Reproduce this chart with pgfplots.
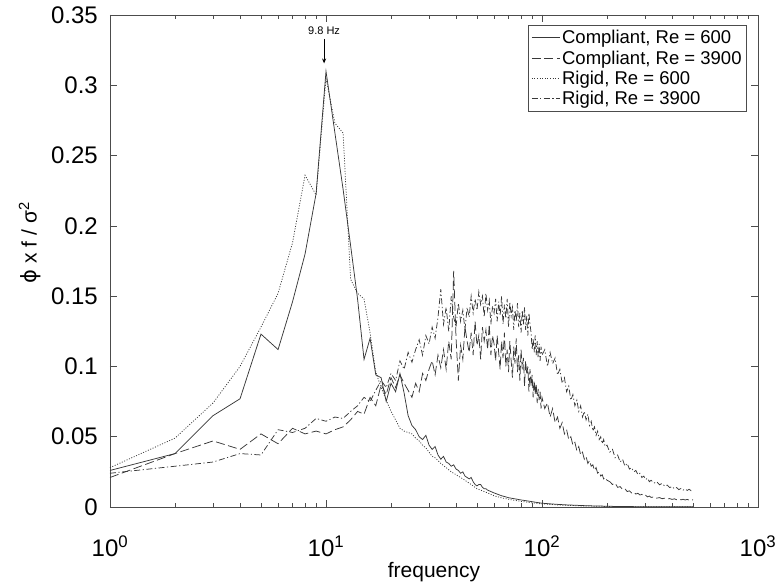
\documentclass[border=0pt]{standalone}
\usepackage{pgfplots}
\pgfplotsset{compat=1.18}
\usepackage{fontspec}
\setmainfont{Liberation Sans}
\newfontfamily\djv{DejaVu Sans}
\usetikzlibrary{arrows.meta}
\definecolor{lc}{gray}{0.22}
\definecolor{fr}{gray}{0.3}

\pgfplotstableread{
f v
1 0.026
2 0.038
3 0.065
4 0.077
5 0.123
6 0.112
7 0.146
8 0.180
9 0.223
10 0.310
11 0.266
12 0.226
13 0.186
14 0.148
15 0.105
16 0.120
17 0.094
18 0.092
19 0.075
20 0.088
21 0.082
22 0.095
23 0.081
24 0.065
25 0.058
26 0.055
27 0.050
28 0.048
29 0.051
30 0.044
31 0.041
32 0.043
33 0.037
34 0.034
35 0.036
36 0.032
37 0.031
38 0.029
39 0.030
40 0.027
41 0.026
42 0.024
43 0.025
44 0.022
45 0.021
46 0.020
47 0.021
48 0.018
49 0.016
50 0.015
51 0.016
52 0.016
53 0.014
54 0.013
55 0.013
56 0.012
58 0.011
60 0.010
62 0.0092
65 0.0080
68 0.0072
70 0.0066
75 0.0058
80 0.0050
85 0.0044
90 0.0038
95 0.0032
100 0.0027
110 0.0022
120 0.0018
130 0.0015
140 0.0013
155 0.0010
170 0.0008
185 0.0007
200 0.0005
250 0.0003
300 0.0002
400 0.0001
500 0.0001
}\compsix

\pgfplotstableread{
f v
1 0.021
2 0.038
3 0.047
4 0.041
5 0.052
6 0.045
7 0.056
8 0.052
9 0.054
10 0.052
11 0.055
12 0.057
13 0.062
14 0.068
15 0.066
16 0.078
17 0.072
18 0.087
19 0.080
20 0.092
21 0.085
22 0.094
23 0.088
24 0.083
25 0.078
26 0.088
27 0.082
28 0.095
29 0.090
30 0.098
31 0.104
32 0.094
33 0.108
34 0.099
35 0.112
36 0.098
37 0.118
38 0.105
39 0.168
40 0.120
41 0.090
42 0.115
43 0.105
44 0.128
45 0.118
46 0.110
47 0.124
48 0.108
49 0.132
50 0.115
51 0.122
52 0.105
53 0.128
54 0.118
55 0.126
56 0.112
57 0.130
58 0.108
59 0.122
60 0.116
61 0.104
62 0.122
63 0.110
64 0.098
65 0.118
66 0.106
67 0.124
68 0.100
69 0.112
70 0.096
71 0.118
72 0.104
73 0.092
74 0.114
75 0.102
76 0.120
77 0.096
78 0.108
79 0.090
80 0.112
81 0.098
82 0.106
83 0.086
84 0.104
85 0.094
86 0.100
87 0.082
88 0.098
89 0.086
90 0.094
91 0.078
92 0.090
93 0.080
94 0.088
95 0.074
96 0.084
97 0.076
98 0.082
99 0.070
100 0.078
103 0.070
106 0.074
109 0.064
112 0.070
115 0.060
118 0.064
121 0.056
124 0.060
127 0.052
130 0.055
133 0.048
136 0.050
139 0.044
142 0.046
145 0.040
148 0.043
151 0.037
154 0.039
157 0.034
160 0.036
163 0.031
166 0.033
169 0.029
172 0.030
175 0.026
178 0.028
181 0.024
184 0.025
187 0.022
190 0.023
193 0.020
196 0.021
200 0.019
206 0.018
212 0.016
218 0.017
224 0.014
230 0.0145
236 0.0125
242 0.013
248 0.011
254 0.0115
260 0.010
266 0.0105
272 0.0092
278 0.0098
284 0.0085
290 0.009
296 0.0078
302 0.0083
308 0.0072
314 0.0078
320 0.0068
330 0.0072
340 0.0063
350 0.0067
360 0.0059
370 0.0063
380 0.0056
390 0.0060
400 0.0054
410 0.0058
420 0.0052
430 0.0056
440 0.0051
450 0.0055
460 0.0050
470 0.0054
480 0.0049
490 0.0053
500 0.0050
}\compthree

\pgfplotstableread{
f v
1 0.028
2 0.049
3 0.074
4 0.100
5 0.128
6 0.152
7 0.188
8 0.236
9 0.222
10 0.305
11 0.273
12 0.266
13 0.162
14 0.152
15 0.148
16 0.124
17 0.096
18 0.085
19 0.076
20 0.068
21 0.062
22 0.056
23 0.054
24 0.053
25 0.052
26 0.049
27 0.047
28 0.044
29 0.042
30 0.039
31 0.036
32 0.035
33 0.033
34 0.031
36 0.028
38 0.025
40 0.023
42 0.021
44 0.019
46 0.017
48 0.015
50 0.013
52 0.012
56 0.010
60 0.008
65 0.0065
70 0.0055
80 0.0040
90 0.0030
100 0.0022
120 0.0014
150 0.0008
200 0.0004
300 0.0002
500 0.0001
}\rigsix

\pgfplotstableread{
f v
1 0.024
2 0.029
3 0.032
4 0.038
5 0.037
6 0.055
7 0.053
8 0.056
9 0.063
10 0.061
11 0.064
12 0.063
13 0.068
14 0.072
15 0.078
16 0.075
17 0.083
18 0.090
19 0.085
20 0.095
21 0.090
22 0.104
23 0.098
24 0.110
25 0.103
26 0.112
27 0.119
28 0.108
29 0.122
30 0.116
31 0.128
32 0.120
33 0.135
34 0.155
35 0.130
36 0.142
37 0.125
38 0.150
39 0.135
40 0.128
41 0.145
42 0.132
43 0.140
44 0.126
45 0.142
46 0.135
47 0.150
48 0.138
49 0.148
50 0.140
51 0.153
52 0.144
53 0.150
54 0.135
55 0.152
56 0.140
57 0.147
58 0.130
59 0.143
60 0.138
61 0.148
62 0.132
63 0.146
64 0.136
65 0.150
66 0.130
67 0.144
68 0.134
69 0.148
70 0.128
71 0.146
72 0.136
73 0.142
74 0.126
75 0.140
76 0.132
77 0.145
78 0.128
79 0.138
80 0.124
81 0.140
82 0.130
83 0.142
84 0.126
85 0.136
86 0.122
87 0.138
88 0.130
89 0.124
90 0.112
91 0.120
92 0.110
93 0.122
94 0.108
95 0.118
96 0.106
97 0.116
98 0.104
99 0.114
100 0.108
103 0.112
106 0.100
109 0.110
112 0.102
115 0.106
118 0.094
121 0.098
124 0.088
127 0.092
130 0.082
133 0.086
136 0.076
139 0.080
142 0.072
145 0.076
148 0.068
151 0.072
154 0.064
157 0.068
160 0.062
163 0.066
166 0.058
169 0.061
172 0.054
175 0.057
178 0.051
181 0.054
184 0.048
187 0.050
190 0.045
193 0.048
196 0.043
200 0.044
206 0.039
212 0.041
218 0.035
224 0.037
230 0.032
236 0.034
242 0.029
248 0.031
254 0.027
260 0.028
266 0.025
272 0.026
278 0.023
284 0.024
290 0.021
296 0.022
302 0.0195
308 0.0205
314 0.018
320 0.019
330 0.017
340 0.018
350 0.0158
360 0.0168
370 0.0148
380 0.0156
390 0.0138
400 0.0146
410 0.013
420 0.0138
430 0.0124
440 0.0132
450 0.012
460 0.0128
470 0.0118
480 0.0126
490 0.0116
500 0.0124
}\rigthree

\begin{document}
\begin{tikzpicture}
\useasboundingbox (-110bp,-79bp) rectangle (665bp,507bp);
\begin{axis}[
  at={(0,0)}, anchor=south west,
  width=648bp, height=492bp, scale only axis,
  xmode=log, xmin=1, xmax=1000, ymin=0, ymax=0.35,
  xtick={1,10,100,1000},
  xticklabels={10\textsuperscript{0},10\textsuperscript{1},10\textsuperscript{2},10\textsuperscript{3}},
  ytick={0,0.05,0.1,0.15,0.2,0.25,0.3,0.35},
  scaled y ticks=false,
  yticklabel style={/pgf/number format/fixed,/pgf/number format/precision=2,
    /pgf/number format/assume math mode=true, inner sep=0pt, xshift=-12bp},
  xticklabel style={inner sep=0pt, yshift=-29bp},
  tick label style={font=\fontsize{24bp}{28bp}\selectfont},
  tick align=inside, major tick length=7bp, minor tick length=4bp,
  axis line style={fr, line width=0.9bp},
  every tick/.style={fr, line width=0.7bp},
  xlabel={frequency},
  ylabel={{\djv\char"03D5}\ x f / \char"03C3\textsuperscript{2}},
  label style={font=\fontsize{21bp}{25bp}\selectfont},
  xlabel style={at={(axis description cs:0.5,-0.132)}, anchor=center},
  ylabel style={at={(axis description cs:-0.1235,0.537)}, anchor=center},
  legend style={at={(0.983,0.98)}, anchor=north east, draw=fr, line width=0.8bp,
    font=\fontsize{18.5bp}{21bp}\selectfont, inner xsep=3bp, inner ysep=3bp,
    row sep=1.5bp, cells={anchor=west}},
  legend image code/.code={\draw[#1] (0bp,0bp) -- (28bp,0bp);},
]
\addplot[lc, line width=0.75bp] table[x=f,y=v] {\compsix};
\addlegendentry{Compliant, Re = 600}
\addplot[lc, line width=0.75bp, dash pattern=on 9bp off 3.5bp] table[x=f,y=v] {\compthree};
\addlegendentry{Compliant, Re = 3900}
\addplot[lc, line width=0.75bp, dash pattern=on 1bp off 1.6bp] table[x=f,y=v] {\rigsix};
\addlegendentry{Rigid, Re = 600}
\addplot[lc, line width=0.75bp, dash pattern=on 6bp off 2.5bp on 1.2bp off 2.5bp] table[x=f,y=v] {\rigthree};
\addlegendentry{Rigid, Re = 3900}
\node[font=\fontsize{11bp}{13bp}\selectfont] at (axis cs:9.8,0.3385) {9.8 Hz};
\draw[black, line width=0.9bp, -{Stealth[length=5bp,width=4bp]}] (axis cs:9.8,0.333) -- (axis cs:9.8,0.3155);
\end{axis}
\end{tikzpicture}
\end{document}
